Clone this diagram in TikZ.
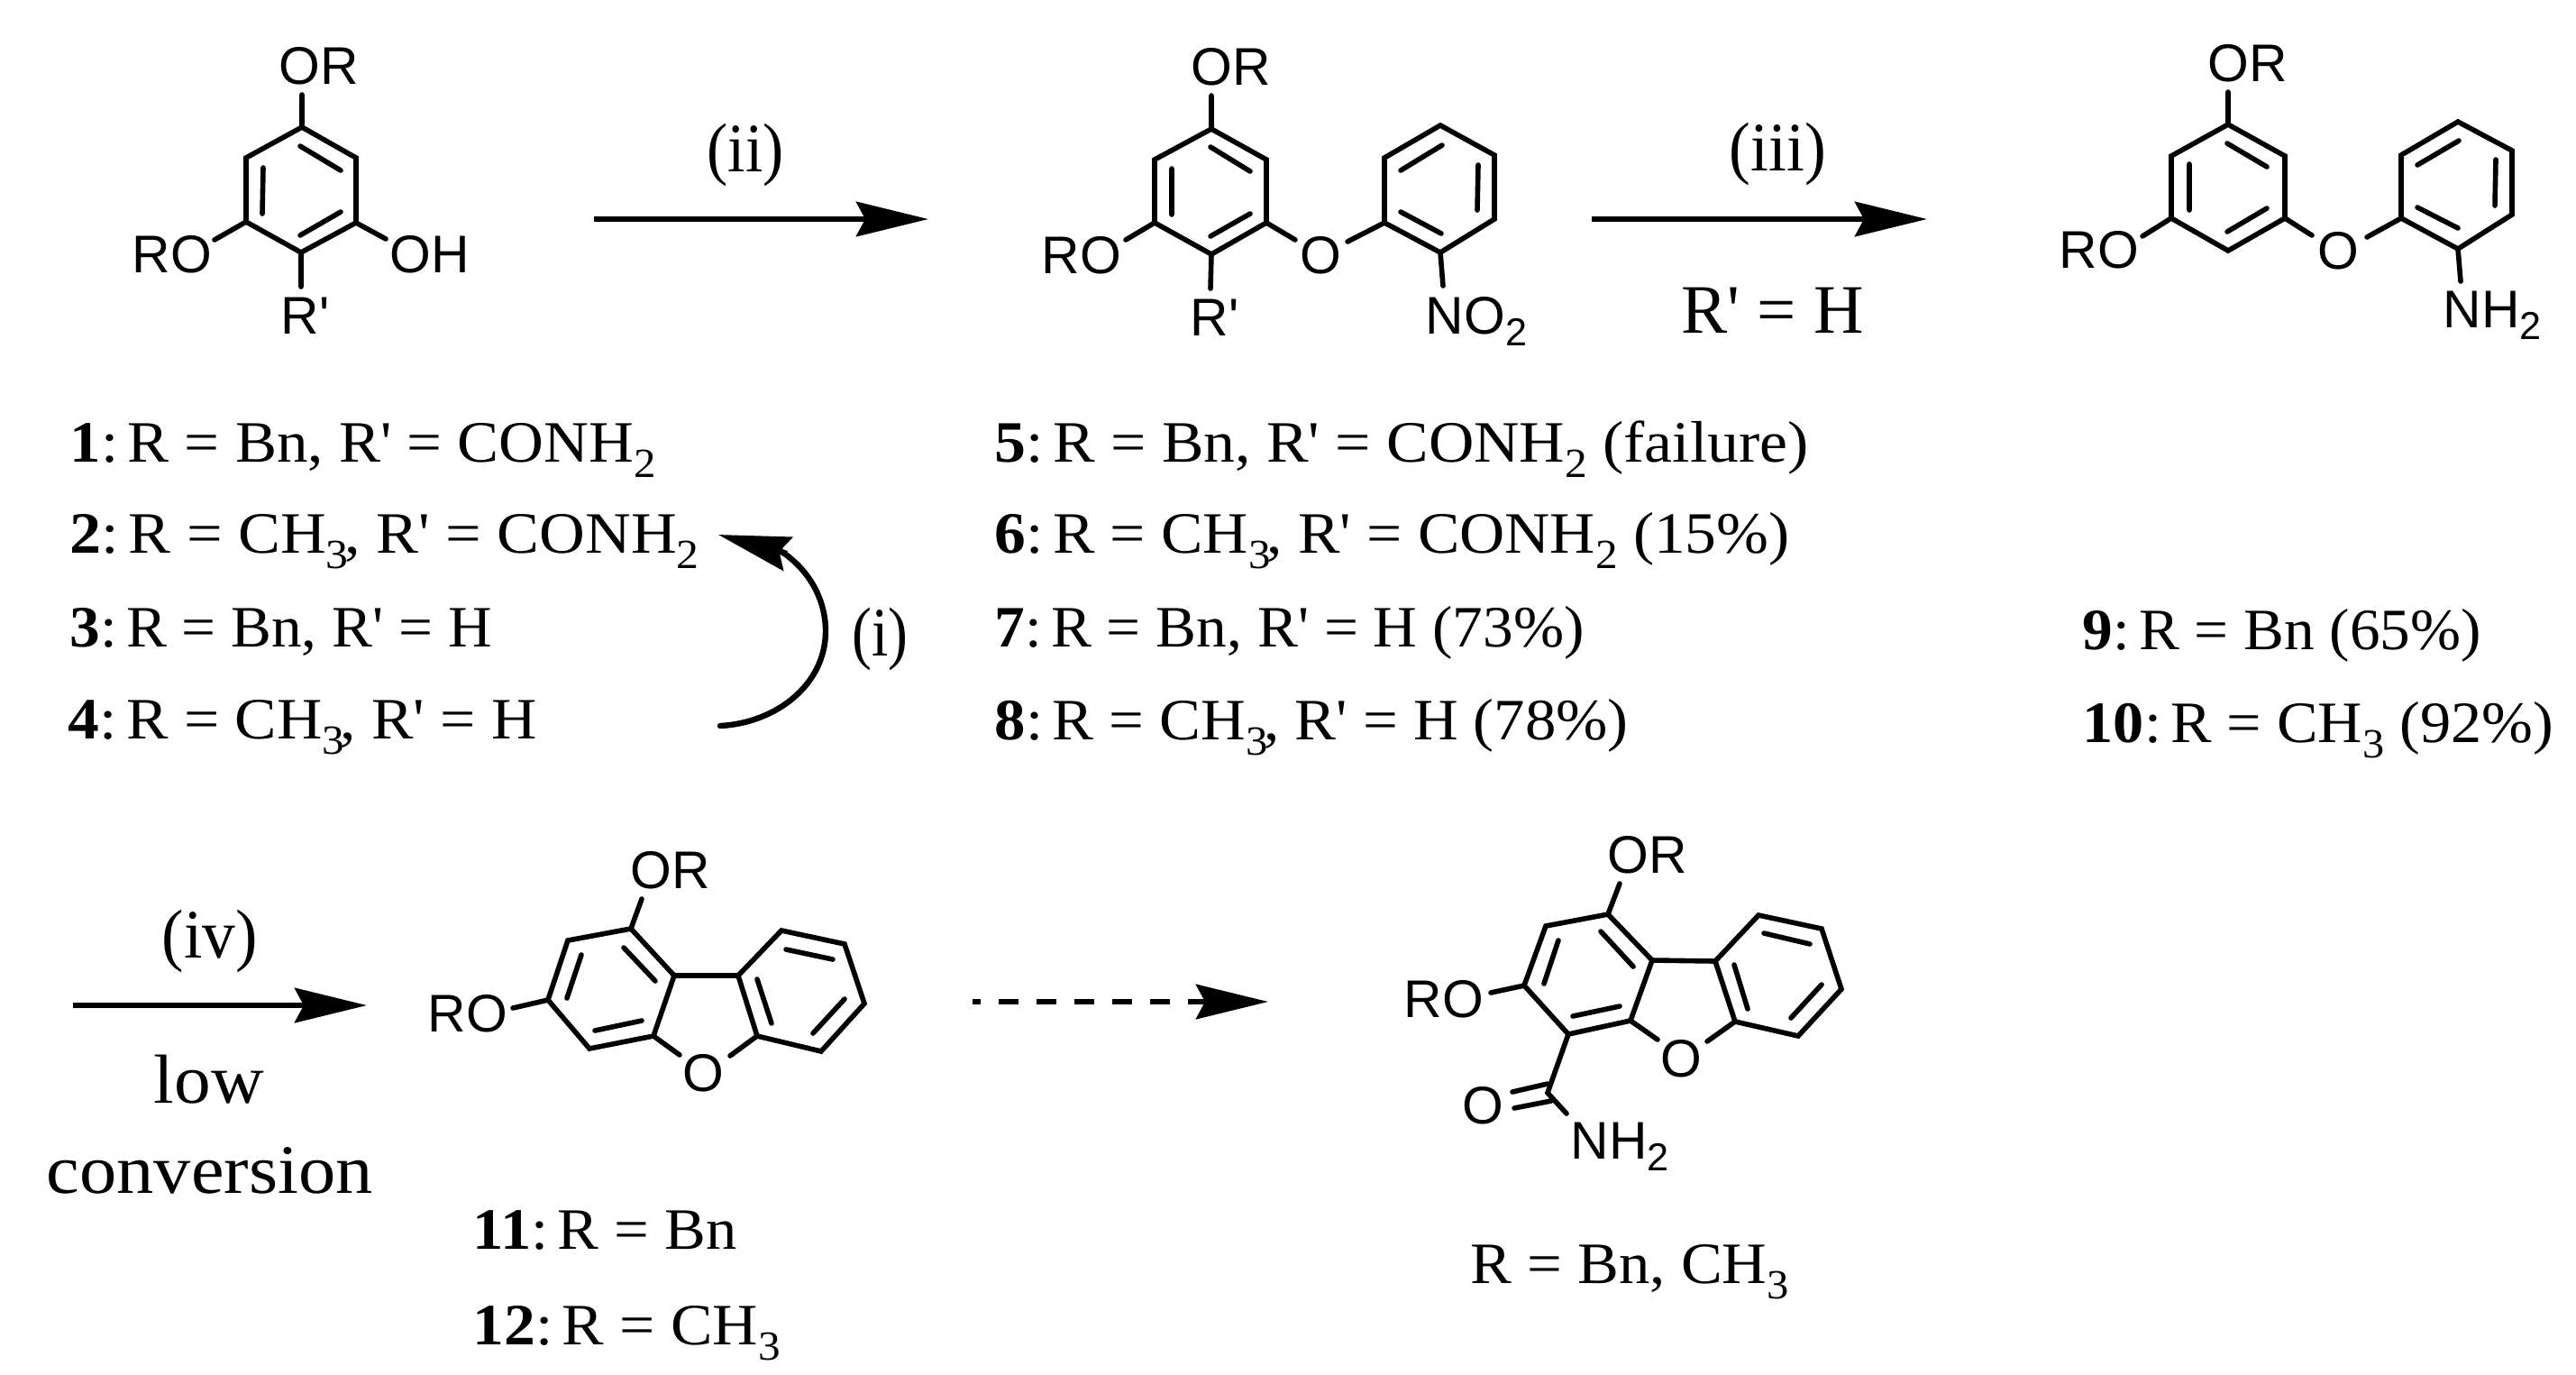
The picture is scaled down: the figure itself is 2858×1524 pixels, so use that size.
\documentclass[tikz,border=0pt]{standalone}
\usepackage{graphicx}
\usepackage{fontspec}
\setmainfont{Liberation Serif}
\newfontfamily\chemfont{Liberation Sans}
\usetikzlibrary{arrows.meta}
\newsavebox\fitbox
\newcommand\fitw[2]{\sbox\fitbox{#2}\pgfmathsetmacro\fitscale{#1*0.25/\wd\fitbox}\scalebox{\fitscale}[1]{\usebox\fitbox}}
\newcommand\pr{\textquotesingle}
\newcommand\cln{:\kern2.4pt}
\newcommand\lsub[1]{\raisebox{-4.25pt}{\fontsize{11.5}{12}\selectfont #1}}
\newcommand\csub[1]{\raisebox{-3.25pt}{\fontsize{10.8}{12}\selectfont #1}}
\tikzset{
  bond/.style={line width=1.4pt,line join=miter,line cap=round},
  ringb/.style={line width=1.4pt,line join=miter,line cap=butt},
  atom/.style={font=\chemfont\fontsize{14.7}{16}\selectfont,anchor=base west,inner sep=0pt},
  ltxt/.style={font=\fontsize{16.25}{20}\selectfont,anchor=base west,inner sep=0pt},
  rtxt/.style={font=\fontsize{19.25}{23}\selectfont,anchor=base west,inner sep=0pt},
  rxn/.style={line width=1.6pt,-{Stealth[length=20pt,width=9.6pt,inset=2.5pt]}},
  rxnd/.style={rxn,dash pattern=on 5.5pt off 5pt,dash phase=3.25pt},
}
\begin{document}
\begin{tikzpicture}[x=0.25pt,y=-0.25pt]
\useasboundingbox (0,0) rectangle (2858,1524);
\fill[white] (0,0) rectangle (2858,1524);

% molecule 1-4
\draw[ringb] (335,141) -- (395,175) -- (395,247) -- (334,280) -- (273,246) -- (273,175) -- cycle;
\draw[bond] (335,141) -- (335,105) (273,246) -- (238,266) (395,247) -- (428,265) (334,280) -- (334,318)
  (333,162) -- (378,189) (292,186) -- (291,237) (333,261) -- (378,235);
\node[atom] (a1) at (309,93) {OR};
\node[atom] (a2) at (146,302) {RO};
\node[atom] (a3) at (432,302) {OH};
\node[atom] (a4) at (311,370) {R\pr};

% molecule 5-8
\draw[ringb] (1344,143) -- (1405,177) -- (1405,247) -- (1344,282) -- (1281,247) -- (1281,177) -- cycle;
\draw[ringb] (1598,139) -- (1658,172) -- (1658,243) -- (1598,280) -- (1536,247) -- (1536,175) -- cycle;
\draw[bond] (1344,143) -- (1344,106) (1281,247) -- (1249,266) (1344,282) -- (1343,320)
  (1405,247) -- (1437,266) (1536,247) -- (1495,268) (1598,280) -- (1601,317)
  (1343,163) -- (1387,190) (1300,187) -- (1300,238) (1343,262) -- (1387,237)
  (1554,189) -- (1600,161) (1640,183) -- (1639,233) (1554,235) -- (1599,259);
\node[atom] (b1) at (1321,94) {OR};
\node[atom] (b2) at (1155,303) {RO};
\node[atom] (b3) at (1320,372) {R\pr};
\node[atom] (b4) at (1442,303) {O};
\node[atom] (b5) at (1581,370) {NO\csub{2}};

% molecule 9-10
\draw[ringb] (2472,138) -- (2535,173) -- (2535,242) -- (2472,278) -- (2409,242) -- (2409,173) -- cycle;
\draw[ringb] (2727,135) -- (2787,167) -- (2787,238) -- (2727,276) -- (2664,242) -- (2664,172) -- cycle;
\draw[bond] (2472,138) -- (2472,102) (2409,242) -- (2377,262) (2535,242) -- (2565,261)
  (2664,242) -- (2626,263) (2727,276) -- (2730,312)
  (2471,159) -- (2515,185) (2429,182) -- (2429,233) (2471,257) -- (2515,231)
  (2682,183) -- (2728,156) (2769,177) -- (2768,228) (2682,230) -- (2727,253);
\node[atom] (c1) at (2449,90) {OR};
\node[atom] (c2) at (2284,297) {RO};
\node[atom] (c3) at (2571,298) {O};
\node[atom] (c4) at (2710,363) {NH\csub{2}};

% molecule 11-12
\draw[ringb] (700,1030) -- (630,1043) -- (608,1109) -- (654,1163) -- (725,1149) -- (748,1082) -- cycle;
\draw[ringb] (819,1082) -- (867,1032) -- (937,1047) -- (959,1113) -- (911,1166) -- (840,1149) -- cycle;
\draw[bond] (748,1082) -- (819,1082) (725,1149) -- (754,1170) (840,1149) -- (810,1171)
  (700,1030) -- (712,997) (608,1109) -- (569,1118)
  (692,1051) -- (727,1088) (645,1059) -- (629,1107) (660,1143) -- (712,1132)
  (872,1053) -- (924,1064) (840,1086) -- (856,1135) (937,1108) -- (902,1146);
\node[atom] (d1) at (699,985) {OR};
\node[atom] (d2) at (474,1144) {RO};
\node[atom] (d3) at (757,1210) {O};

% amide product
\draw[ringb] (1784,1014) -- (1715,1027) -- (1691,1093) -- (1740,1147) -- (1809,1132) -- (1833,1065) -- cycle;
\draw[ringb] (1903,1066) -- (1951,1015) -- (2021,1030) -- (2043,1097) -- (1995,1149) -- (1925,1133) -- cycle;
\draw[bond] (1833,1065) -- (1903,1066) (1809,1132) -- (1839,1153) (1925,1133) -- (1894,1155)
  (1784,1014) -- (1797,980) (1691,1093) -- (1654,1101)
  (1776,1033) -- (1812,1072) (1729,1043) -- (1713,1091) (1745,1127) -- (1797,1116)
  (1957,1035) -- (2008,1047) (1924,1070) -- (1939,1119) (2021,1092) -- (1987,1129)
  (1740,1147) -- (1717,1212) -- (1738,1235)
  (1678,1211) -- (1717,1202) (1680,1229) -- (1721,1221);
\node[atom] (e1) at (1783,968) {OR};
\node[atom] (e2) at (1557,1128) {RO};
\node[atom] (e3) at (1842,1194) {O};
\node[atom] (e4) at (1622,1246) {O};
\node[atom] (e5) at (1742,1285) {NH\csub{2}};

% reaction arrows
\coordinate (r1s) at (659,243); \coordinate (r1e) at (1030,243);
\coordinate (r2s) at (1766,243); \coordinate (r2e) at (2138,243);
\coordinate (r3s) at (81,1115); \coordinate (r3e) at (407,1115);
\coordinate (r4s) at (1079,1111); \coordinate (r4e) at (1407,1111);
\coordinate (c1s) at (799,805); \coordinate (c1m) at (916,700); \coordinate (c1e) at (866,611);
\coordinate (c1b) at (873,614); \coordinate (c1t) at (797,593);
\draw[rxn] (r1s) -- (r1e);
\draw[rxn] (r2s) -- (r2e);
\draw[rxn] (r3s) -- (r3e);
\draw[rxnd] (r4s) -- (r4e);
\draw[line width=1.6pt,line cap=round] (c1s) .. controls (860,802) and (916,760) .. (c1m)
  .. controls (916,665) and (898,632) .. (c1e);
\draw[rxn] (c1b) -- (c1t);

% reaction labels
\node[rtxt] (t1) at (945,727) {\fitw{62}{(i)}};
\node[rtxt] (t2) at (784,190) {\fitw{85}{(ii)}};
\node[rtxt] (t3) at (1918,189) {\fitw{107}{(iii)}};
\node[rtxt] (t4) at (1865,369) {\fitw{202}{R\pr{} = H}};
\node[rtxt] (t5) at (179,1062) {\fitw{106}{(iv)}};
\node[rtxt] (t6) at (170,1223) {\fitw{122}{low}};
\node[rtxt] (t7) at (51,1323) {\fitw{362}{conversion}};

% compound lists
\node[ltxt] (l1) at (77,512) {\fitw{650}{\textbf{1}\cln R = Bn, R\pr{} = CONH\lsub{2}}};
\node[ltxt] (l2) at (77,613) {\fitw{698}{\textbf{2}\cln R = CH\lsub{3}\kern-1pt, R\pr{} = CONH\lsub{2}}};
\node[ltxt] (l3) at (77,717) {\fitw{468}{\textbf{3}\cln R = Bn, R\pr{} = H}};
\node[ltxt] (l4) at (75,819) {\fitw{520}{\textbf{4}\cln R = CH\lsub{3}\kern-1pt, R\pr{} = H}};
\node[ltxt] (m1) at (1103,512) {\fitw{903}{\textbf{5}\cln R = Bn, R\pr{} = CONH\lsub{2} (failure)}};
\node[ltxt] (m2) at (1103,613) {\fitw{882}{\textbf{6}\cln R = CH\lsub{3}\kern-1pt, R\pr{} = CONH\lsub{2} (15\%)}};
\node[ltxt] (m3) at (1103,717) {\fitw{654}{\textbf{7}\cln R = Bn, R\pr{} = H (73\%)}};
\node[ltxt] (m4) at (1103,820) {\fitw{703}{\textbf{8}\cln R = CH\lsub{3}\kern-1pt, R\pr{} = H (78\%)}};
\node[ltxt] (n1) at (2310,720) {\fitw{442}{\textbf{9}\cln R = Bn (65\%)}};
\node[ltxt] (n2) at (2310,823) {\fitw{522}{\textbf{10}\cln R = CH\lsub{3} (92\%)}};
\node[ltxt] (p1) at (524,1385) {\fitw{293}{\textbf{11}\cln R = Bn}};
\node[ltxt] (p2) at (524,1491) {\fitw{341}{\textbf{12}\cln R = CH\lsub{3}}};
\node[ltxt] (q1) at (1631,1423) {\fitw{353}{R = Bn, CH\lsub{3}}};
\end{tikzpicture}
\end{document}
